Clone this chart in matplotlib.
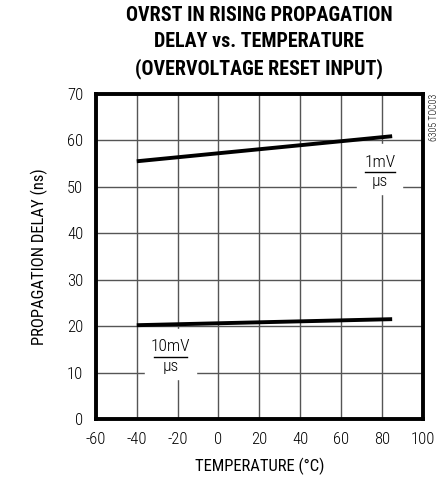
import matplotlib
matplotlib.use('Agg')
import matplotlib.pyplot as plt

plt.rcParams['font.family'] = ['Roboto Condensed', 'DejaVu Sans']
plt.rcParams['font.weight'] = 'light'
plt.rcParams['axes.unicode_minus'] = False

temp = [-40, 85]
delay_1mv = [55.5, 60.9]
delay_10mv = [20.2, 21.5]
x_ticks = [-60, -40, -20, 0, 20, 40, 60, 80, 100]
y_ticks = [0, 10, 20, 30, 40, 50, 60, 70]

fig = plt.figure(figsize=(4.46, 4.83), dpi=100)
ax = fig.add_axes([0.215, 0.1325, 0.733, 0.673])
ax.set_xlim(-60, 100)
ax.set_ylim(0, 70)
ax.set_xticks(x_ticks)
ax.set_yticks(y_ticks)
ax.tick_params(length=0, labelsize=12, pad=9)
ax.grid(True, color='#555555', linewidth=1.0)
ax.set_axisbelow(True)
for s in ax.spines.values():
    s.set_linewidth(2.8)

ax.plot(temp, delay_1mv, color='black', linewidth=2.8, solid_capstyle='butt', zorder=3)
ax.plot(temp, delay_10mv, color='black', linewidth=2.8, solid_capstyle='butt', zorder=3)

def fraction(x, y, top, w, bar):
    # white patch hides the grid behind the slew-rate label
    ax.add_patch(plt.Rectangle((x - w / 2, y - 4.8), w, 10.8, color='white', zorder=2))
    ax.text(x, y + 0.5, top, ha='center', va='bottom', fontsize=12.5, zorder=4)
    ax.plot([x - bar / 2, x + bar / 2], [y, y], color='black', linewidth=1, zorder=4)
    ax.text(x, y - 0.5, '\u00b5s', ha='center', va='top', fontsize=12.5, zorder=4)

fraction(79, 53.2, '1mV', 22, 14.7)
fraction(-23.5, 13.4, '10mV', 25.4, 15.7)

ax.set_xlabel('TEMPERATURE (\u00b0C)', fontsize=12, labelpad=8)
ax.set_ylabel('PROPAGATION DELAY (ns)', fontsize=12, labelpad=14)
ax.set_title('OVRST IN RISING PROPAGATION\nDELAY vs. TEMPERATURE\n(OVERVOLTAGE RESET INPUT)',
             fontsize=14.4, fontweight='bold', linespacing=1.45, pad=14)
fig.text(0.972, 0.805, '6305 TOC03', rotation=90, ha='center', va='top', fontsize=7)

fig.savefig('out.png', dpi=100)
